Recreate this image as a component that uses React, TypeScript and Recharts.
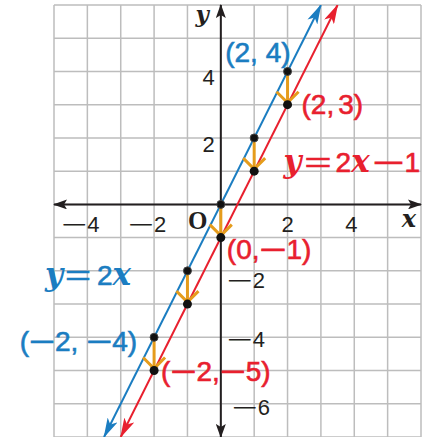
import React from 'react';
import { ComposedChart, Line, Scatter, XAxis, YAxis, CartesianGrid, ReferenceLine, ReferenceDot } from 'recharts';

// grid / axis domain
const xGrid = [-5, -4, -3, -2, -1, 0, 1, 2, 3, 4, 5, 6];
const yGrid = [-7, -6, -5, -4, -3, -2, -1, 0, 1, 2, 3, 4, 5, 6];

// the two lines (drawn edge to edge with arrow tips)
const blueLine = [{ x: -3.5, y: -7 }, { x: 3, y: 6 }];
const redLine = [{ x: -3, y: -7 }, { x: 3.5, y: 6 }];

// plotted points
const bluePoints = [
  { x: -2, y: -4 }, { x: -1, y: -2 }, { x: 0, y: 0 }, { x: 1, y: 2 }, { x: 2, y: 4 },
];
const redPoints = [
  { x: -2, y: -5 }, { x: -1, y: -3 }, { x: 0, y: -1 }, { x: 1, y: 1 }, { x: 2, y: 3 },
];

const xTickLabels = [-4, -2, 2, 4];
const yTickLabels = [4, 2, -2, -4, -6];

const BLUE = '#1b7dc1';
const RED = '#e8202e';
const ORANGE = '#e59c1c';
const INK = '#231f20';
const SANS = '"Liberation Sans", Arial, sans-serif';
const SERIF = '"Liberation Serif", "Times New Roman", serif';
const VARF = '"DejaVu Serif", "Liberation Serif", serif';
const MINUS = '\u2212';

type Tok = { t: string; v?: boolean; w?: number; dx?: number };

// split a string so every minus sign can be stretched wider
const toks = (s: string, minusW: number): Tok[] =>
  s.split(/(\u2212)/).filter(Boolean).map((t) => (t === MINUS ? { t, w: minusW } : { t }));

const renderToks = (list: Tok[], varSize: number) =>
  list.map((k, i) => (
    <tspan key={i} dx={k.dx} textLength={k.w} lengthAdjust={k.w ? 'spacingAndGlyphs' : undefined}
      fontFamily={k.v ? VARF : undefined} fontStyle={k.v ? 'italic' : undefined}
      fontWeight={k.v ? 'bold' : undefined} fontSize={k.v ? varSize : undefined}
      strokeWidth={k.v ? 0 : undefined}>
      {k.t}
    </tspan>
  ));

const AxisLine = (p: any) => (
  <line x1={p.x1} y1={p.y1} x2={p.x2} y2={p.y2} stroke={INK} strokeWidth={2}
    markerStart="url(#arrowInk)" markerEnd="url(#arrowInk)" />
);

const ShiftArrow = (p: any) => {
  const { x1, y1, x2, y2 } = p;
  const tip = y2 - 2;
  return (
    <g>
      <line x1={x1} y1={y1} x2={x2} y2={tip} stroke={ORANGE} strokeWidth={3} />
      <polyline points={`${x2 - 11},${tip - 11} ${x2},${tip} ${x2 + 11},${tip - 11}`}
        fill="none" stroke={ORANGE} strokeWidth={3} strokeLinejoin="miter" />
    </g>
  );
};

const SmallDot = (p: any) => <circle cx={p.cx} cy={p.cy} r={4} fill="#111" stroke="#444" strokeWidth={1} />;
const BigDot = (p: any) => <circle cx={p.cx} cy={p.cy} r={4.5} fill="#111" />;

type Note = { x: number; y: number; dx: number; dy: number; anchor: string; color: string; body: Tok[] };

const notes: Note[] = [
  { x: 2, y: 4, dx: 3, dy: -9, anchor: 'end', color: BLUE, body: toks('(2, 4)', 26) },
  { x: 2, y: 3, dx: 14, dy: 9, anchor: 'start', color: RED, body: [{ t: '(2,' }, { t: '3)', dx: 4 }] },
  { x: 0, y: -1, dx: 6, dy: 21, anchor: 'start', color: RED, body: toks(`(0,${MINUS}1)`, 27) },
  { x: -2, y: -4, dx: -17, dy: 14, anchor: 'end', color: BLUE, body: toks(`(${MINUS}2, ${MINUS}4)`, 26) },
  { x: -2, y: -5, dx: 7, dy: 10, anchor: 'start', color: RED, body: toks(`(${MINUS}2,${MINUS}5)`, 26) },
  {
    x: 2, y: 1, dx: -4, dy: 1, anchor: 'start', color: RED,
    body: [
      { t: 'y', v: true }, { t: '=', w: 27, dx: 3 }, { t: '2', dx: 4 }, { t: 'x', v: true },
      { t: MINUS, w: 32, dx: 3 }, { t: '1' },
    ],
  },
  {
    x: -5, y: -2, dx: -9, dy: 14, anchor: 'start', color: BLUE,
    body: [{ t: 'y', v: true }, { t: '=', w: 26, dx: 2 }, { t: '2', dx: 6 }, { t: 'x', v: true }],
  },
];

const yLabelPos: Record<number, [number, number, string]> = {
  4: [-6, 14, 'end'],
  2: [-6, 14, 'end'],
  [-2]: [6, 17, 'start'],
  [-4]: [6, 10, 'start'],
  [-6]: [11, 11, 'start'],
};

export default function App() {
  return (
    <div style={{ position: 'absolute', left: 0, top: 0, background: '#fff' }}>
      <ComposedChart width={425} height={437} margin={{ top: 5, right: 4, bottom: 0, left: 54 }}>
        <defs>
          <marker id="arrowBlue" viewBox="0 0 20 11" refX={19} refY={5.5} markerWidth={20} markerHeight={11}
            markerUnits="userSpaceOnUse" orient="auto-start-reverse">
            <path d="M0,0 L20,5.5 L0,11 L5,5.5 Z" fill={BLUE} />
          </marker>
          <marker id="arrowRed" viewBox="0 0 20 11" refX={19} refY={5.5} markerWidth={20} markerHeight={11}
            markerUnits="userSpaceOnUse" orient="auto-start-reverse">
            <path d="M0,0 L20,5.5 L0,11 L5,5.5 Z" fill={RED} />
          </marker>
          <marker id="arrowInk" viewBox="0 0 14 10" refX={13} refY={5} markerWidth={14} markerHeight={10}
            markerUnits="userSpaceOnUse" orient="auto-start-reverse">
            <path d="M0,0 L14,5 L0,10 L3,5 Z" fill={INK} />
          </marker>
        </defs>
        <CartesianGrid stroke="#bdbdbd" strokeWidth={1.5} />
        <XAxis type="number" dataKey="x" domain={[-5, 6]} ticks={xGrid} hide allowDataOverflow />
        <YAxis type="number" dataKey="y" domain={[-7, 6]} ticks={yGrid} hide allowDataOverflow />

        <ReferenceLine y={0} shape={AxisLine} />
        <ReferenceLine x={0} shape={AxisLine} />

        <Line data={blueLine} dataKey="y" stroke={BLUE} strokeWidth={2} dot={false}
          isAnimationActive={false} markerStart="url(#arrowBlue)" markerEnd="url(#arrowBlue)" />
        <Line data={redLine} dataKey="y" stroke={RED} strokeWidth={2} dot={false}
          isAnimationActive={false} markerStart="url(#arrowRed)" markerEnd="url(#arrowRed)" />

        {bluePoints.map((b, i) => (
          <ReferenceLine key={`s${i}`} segment={[b, redPoints[i]]} shape={ShiftArrow} ifOverflow="visible" />
        ))}

        <Scatter data={bluePoints} dataKey="y" shape={SmallDot} isAnimationActive={false} />
        <Scatter data={redPoints} dataKey="y" shape={BigDot} isAnimationActive={false} />

        {xTickLabels.map((v) => (
          <ReferenceDot key={`xt${v}`} x={v} y={0} r={0} ifOverflow="visible"
            shape={(p: any) => (
              <text x={p.cx - (v < 0 ? 7 : v > 3 ? 3 : 0)} y={p.cy + 28} textAnchor="middle" fontFamily={SANS}
                fontSize={22} fill={INK}>{renderToks(toks(v < 0 ? `${MINUS}${-v}` : `${v}`, 26), 22)}</text>
            )} />
        ))}
        {yTickLabels.map((v) => (
          <ReferenceDot key={`yt${v}`} x={0} y={v} r={0} ifOverflow="visible"
            shape={(p: any) => (
              <text x={p.cx + yLabelPos[v][0]} y={p.cy + yLabelPos[v][1]}
                textAnchor={yLabelPos[v][2] as any} fontFamily={SANS} fontSize={22} fill={INK}>
                {renderToks(toks(v < 0 ? `${MINUS}${-v}` : `${v}`, 26), 22)}
              </text>
            )} />
        ))}
        <ReferenceDot x={0} y={0} r={0} ifOverflow="visible"
          shape={(p: any) => (
            <text x={p.cx - 23} y={p.cy + 25} textAnchor="middle" fontFamily={SERIF} fontWeight="bold"
              fontSize={25} fill={INK}>O</text>
          )} />
        <ReferenceDot x={6} y={0} r={0} ifOverflow="visible"
          shape={(p: any) => (
            <text x={p.cx - 5} y={p.cy + 23} textAnchor="end" fontFamily={VARF} fontStyle="italic"
              fontWeight="bold" fontSize={24} fill={INK}>x</text>
          )} />
        <ReferenceDot x={0} y={6} r={0} ifOverflow="visible"
          shape={(p: any) => (
            <text x={p.cx - 12} y={p.cy + 17} textAnchor="end" fontFamily={VARF} fontStyle="italic"
              fontWeight="bold" fontSize={23} fill={INK}>y</text>
          )} />

        {notes.map((n, i) => (
          <ReferenceDot key={`n${i}`} x={n.x} y={n.y} r={0} ifOverflow="visible"
            shape={(p: any) => (
              <text x={p.cx + n.dx} y={p.cy + n.dy} textAnchor={n.anchor as any} fontFamily={SANS}
                fontSize={28} fill={n.color} stroke={n.color} strokeWidth={0.6}>
                {renderToks(n.body, 31)}
              </text>
            )} />
        ))}
      </ComposedChart>
    </div>
  );
}
